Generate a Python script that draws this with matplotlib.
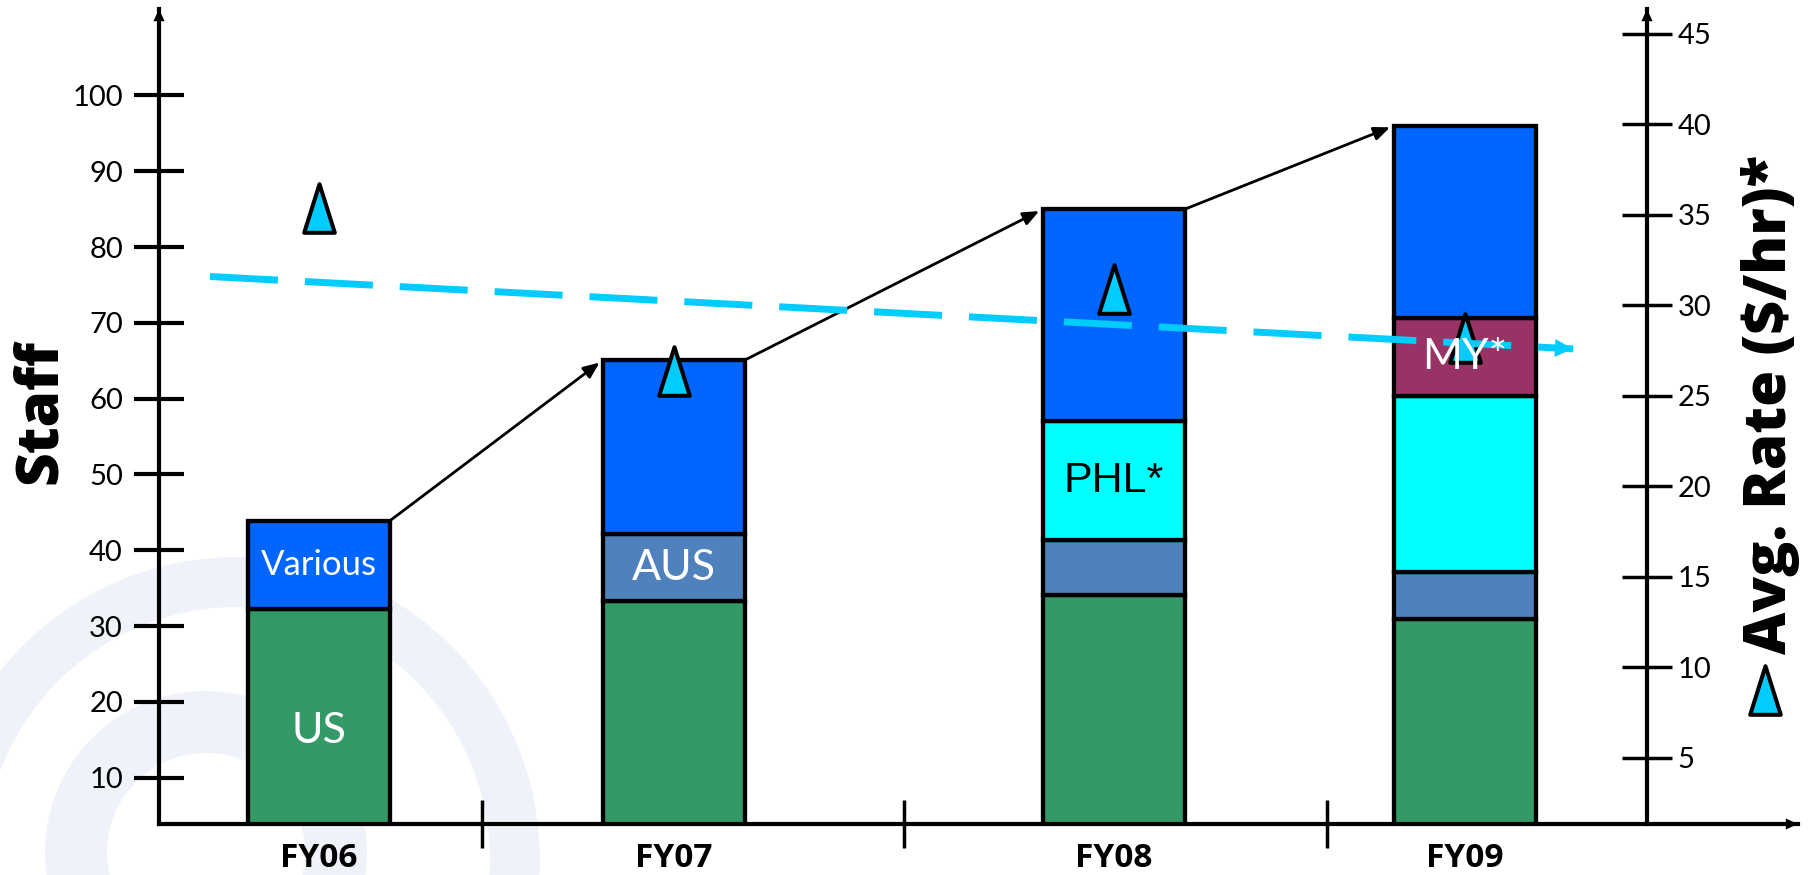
import matplotlib
matplotlib.use('Agg')
import matplotlib.pyplot as plt
from matplotlib.patches import Wedge
from matplotlib.path import Path
from matplotlib.markers import MarkerStyle

plt.rcParams['font.family'] = ['Lato', 'DejaVu Sans']
plt.rcParams['lines.scale_dashes'] = False

# ---------------- data ----------------
years = ['FY06', 'FY07', 'FY08', 'FY09']
staff_us = [32.2, 33.3, 34.1, 30.9]
staff_aus = [0, 8.8, 7.2, 6.2]
staff_phl = [0, 0, 15.7, 23.3]
staff_my = [0, 0, 0, 10.3]
staff_various = [11.7, 23.0, 28.0, 25.3]
avg_rate = [35.4, 26.4, 30.9, 28.2]          # $/hr (right axis)
trend_rate = [31.6, 27.6]                     # start / end of trend arrow ($/hr)
left_ticks = [10, 20, 30, 40, 50, 60, 70, 80, 90, 100]
right_ticks = [5, 10, 15, 20, 25, 30, 35, 40, 45]

# ---------------- layout (pixel-like x units) ----------------
W, H = 1820, 875
x_pos = [319, 674, 1114, 1465]
sep_pos = [482, 904, 1327]
trend_x = [210, 1573]
bar_w = 142
right_axis_x = 1647

def fx(px):
    return px / W

def fy(py):
    return 1 - py / H

fig = plt.figure(figsize=(18.2, 8.75), dpi=100)

# background watermark rings
bg = fig.add_axes([0, 0, 1, 1], zorder=-5)
bg.set_xlim(0, W)
bg.set_ylim(H, 0)
bg.axis('off')
bg.add_patch(Wedge((237, 860), 303, 0, 360, width=50, color='#EFF2F8', lw=0))
bg.add_patch(Wedge((206, 852), 161, 0, 360, width=62, color='#EFF2F8', lw=0))

# main axes
ax = fig.add_axes([fx(159), fy(824), (1798 - 159) / W, (824 - 9) / H])
ax.patch.set_visible(False)
ax.set_xlim(159, 1798)
ax.set_ylim(3.89, 111.4)
for s in ['top', 'right']:
    ax.spines[s].set_visible(False)
ax.spines['left'].set_linewidth(3)
ax.spines['bottom'].set_linewidth(3)

ax.set_yticks(left_ticks)
ax.tick_params(axis='y', direction='inout', length=36, width=3, pad=8, labelsize=21)
ax.set_xticks(x_pos)
ax.set_xticklabels(years, fontsize=24, fontweight='bold',
                   family=['Open Sans', 'DejaVu Sans'])
ax.tick_params(axis='x', which='major', length=0, pad=13)
ax.set_xticks(sep_pos, minor=True)
ax.tick_params(axis='x', which='minor', direction='inout', length=34.5, width=2.5)

# axis arrowheads
head = dict(arrowstyle='-|>,head_length=0.55,head_width=0.25', color='black', lw=0,
            mutation_scale=16, shrinkA=0, shrinkB=0)
ax.annotate('', xy=(0, 1), xytext=(0, 0.97), xycoords='axes fraction', arrowprops=head)
ax.annotate('', xy=(1, 0), xytext=(0.98, 0), xycoords='axes fraction', arrowprops=head)

# stacked bars
series = [(staff_us, '#339966'), (staff_aus, '#4F81BD'), (staff_phl, '#00FFFF'),
          (staff_my, '#993366'), (staff_various, '#0066FF')]
bottoms = [0.0] * len(years)
seg_bottoms = []
for vals, col in series:
    seg_bottoms.append(list(bottoms))
    xs = [x for x, v in zip(x_pos, vals) if v > 0]
    hs = [v for v in vals if v > 0]
    bs = [b for b, v in zip(bottoms, vals) if v > 0]
    ax.bar(xs, hs, width=bar_w, bottom=bs, color=col, edgecolor='black',
           linewidth=3.1, zorder=2)
    bottoms = [b + v for b, v in zip(bottoms, vals)]
totals = bottoms

# growth arrows between bar tops
for i in range(len(years) - 1):
    ax.annotate('', xy=(x_pos[i + 1] - bar_w / 2, totals[i + 1]),
                xytext=(x_pos[i] + bar_w / 2, totals[i]),
                arrowprops=dict(arrowstyle='-|>,head_length=0.6,head_width=0.25',
                                color='black', lw=2, mutation_scale=16,
                                shrinkA=0, shrinkB=3), zorder=3)

# right axis
ax2 = ax.twinx()
ax2.set_ylim(1.35, 46.38)
for s in ['top', 'left', 'bottom']:
    ax2.spines[s].set_visible(False)
ax2.spines['right'].set_position(('data', right_axis_x))
ax2.spines['right'].set_linewidth(3)
ax2.set_yticks(right_ticks)
ax2.tick_params(axis='y', direction='inout', length=36, width=2.5, pad=4, labelsize=21)
ax2.annotate('', xy=(right_axis_x, 1), xytext=(right_axis_x, 0.97),
             xycoords=('data', 'axes fraction'), arrowprops=head)

# triangle markers
tri = Path([(0, 1), (-0.63, -1), (0.63, -1), (0, 1)],
           [Path.MOVETO, Path.LINETO, Path.LINETO, Path.CLOSEPOLY])
tri_marker = MarkerStyle(tri, joinstyle='miter')
ax2.plot(x_pos, avg_rate, ls='none', marker=tri_marker, markersize=35,
         markerfacecolor='#00CCFF', markeredgecolor='black', markeredgewidth=2.9, zorder=3)

# dashed trend arrow
ax2.plot(trend_x, trend_rate, color='#00CCFF', lw=5, dashes=(49, 19.4),
         dash_capstyle='butt', zorder=4)
tx0 = trend_x[1] - 0.015 * (trend_x[1] - trend_x[0])
ty0 = trend_rate[1] - 0.015 * (trend_rate[1] - trend_rate[0])
ax2.annotate('', xy=(trend_x[1], trend_rate[1]), xytext=(tx0, ty0),
             arrowprops=dict(arrowstyle='-|>,head_length=0.65,head_width=0.32',
                             color='#00CCFF', lw=0, mutation_scale=20,
                             shrinkA=0, shrinkB=0), zorder=4)

# segment labels
seg_labels = [('US', 0, 0, 'white', 31, 'Lato'),
              ('Various', 4, 0, 'white', 25, 'Lato'),
              ('AUS', 1, 1, 'white', 31, 'Lato'),
              ('PHL*', 2, 2, 'black', 31, 'Liberation Sans'),
              ('MY*', 3, 3, 'white', 31, 'Lato')]
for text, si, yi, col, fs, fam in seg_labels:
    vals = series[si][0]
    yc = seg_bottoms[si][yi] + vals[yi] / 2
    ax2.text(x_pos[yi], yc, text, transform=ax.transData, ha='center', va='center',
             color=col, fontsize=fs, family=[fam, 'DejaVu Sans'], zorder=5)

# axis titles
fig.text(fx(40), fy(412), 'Staff', rotation=90, ha='center', va='center',
         fontsize=42, fontweight='heavy', family=['Open Sans', 'DejaVu Sans'])
fig.text(fx(1771), fy(405), 'Avg. Rate ($/hr)*', rotation=90, ha='center', va='center',
         fontsize=42, fontweight='heavy', family=['Open Sans', 'DejaVu Sans'])
bg.plot([1765], [690], ls='none', marker=tri_marker, markersize=35,
        markerfacecolor='#00CCFF', markeredgecolor='black', markeredgewidth=2.9)

fig.savefig('out.png', dpi=100)
